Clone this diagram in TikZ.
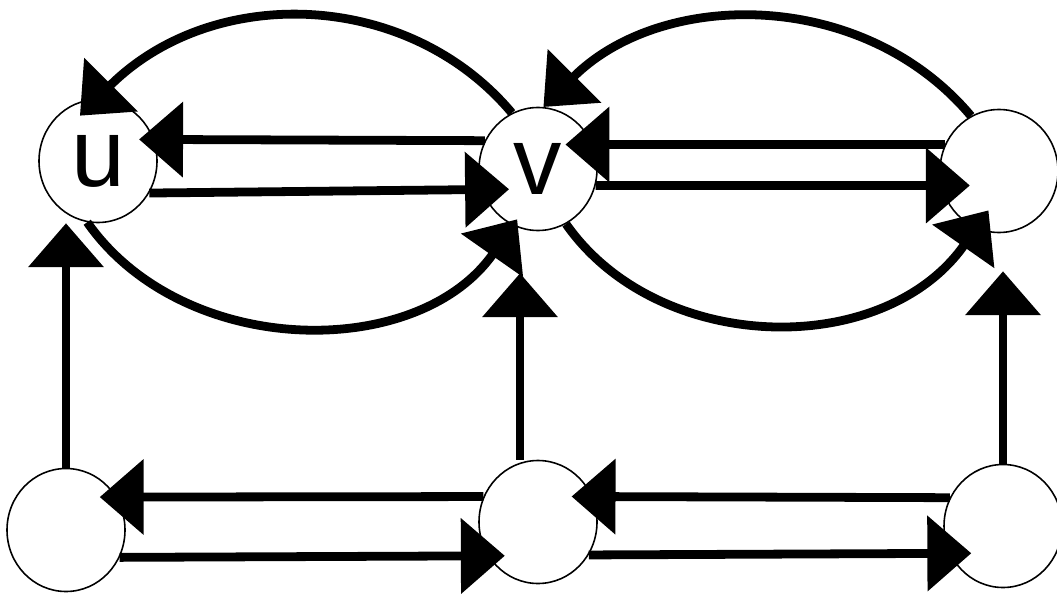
\documentclass[tikz,border=0pt]{standalone}
\usepackage{fontspec}
\setsansfont{Liberation Sans}
\usepackage{tikz}
\usetikzlibrary{arrows.meta, positioning, shapes.geometric}

\begin{document}
\begin{tikzpicture}[on grid, >={Triangle[length=25pt, width=42pt]},
    vertex/.style={ellipse, draw, line width=0.9pt, minimum width=2.36cm, minimum height=2.46cm, inner sep=0pt, font=\sffamily\fontsize{55}{55}\selectfont},
    link/.style={line width=5pt}]
    \useasboundingbox (0,0) rectangle (21.14,-11.9);
    \node[vertex] (u) at (1.96,-3.22) {u};
    \node[vertex, right=8.8cm of u, yshift=-0.16cm] (v) {v};
    \node[vertex, right=9.22cm of v, yshift=-0.04cm] (w) {};
    \node[vertex, below=7.38cm of u, xshift=-0.64cm] (a) {};
    \node[vertex, right=9.44cm of a, yshift=0.16cm] (b) {};
    \node[vertex, right=9.3cm of b, yshift=-0.08cm] (c) {};

    \path[->, link]
        (v.152) edge[shorten >=-0.3cm] (u.21)
        (u.-32) edge[shorten >=-0.55cm] (v.200)
        (w.154) edge[shorten >=-0.55cm] (v.24)
        (v.-16) edge[shorten >=-0.58cm] (w.194)
        (v.115) edge[out=130, in=45, shorten >=-0.48cm] (u.91)
        (u.260) edge[out=-55, in=235, shorten >=-0.15cm] (v.246)
        (w.117) edge[out=130, in=45] (v.85)
        (v.-63) edge[out=-55, in=235, shorten >=-0.44cm] (w.248)
        (a.north) edge (a.north |- u.south)
        ([xshift=-0.36cm]b.north) edge[shorten >=0.84cm] ([xshift=-0.36cm]b.north |- v.south)
        (c.north) edge[shorten >=0.76cm] (c.north |- w.south)
        (b.155) edge[shorten >=-0.34cm] (a.33)
        (a.-27) edge[shorten >=-0.34cm] (b.214)
        (c.152) edge[shorten >=-0.42cm] (b.25)
        (b.-33) edge[shorten >=-0.44cm] (c.207);
\end{tikzpicture}
\end{document}
